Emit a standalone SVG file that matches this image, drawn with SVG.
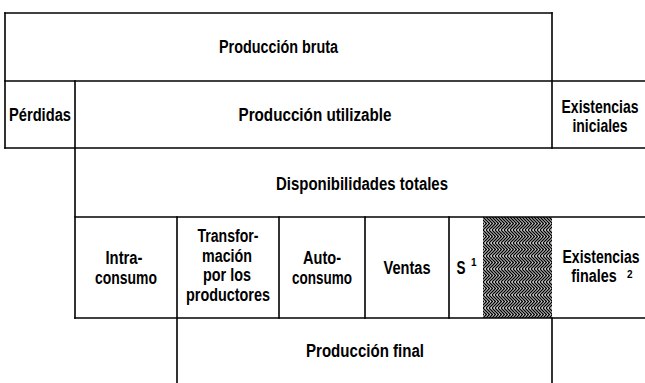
<svg xmlns="http://www.w3.org/2000/svg" width="645" height="383" viewBox="0 0 645 383">
<style>
.t{font-family:"Liberation Sans",Arial,sans-serif;font-weight:bold;font-size:17.5px;fill:#000;text-anchor:middle}
.sup{font-family:"Liberation Sans",Arial,sans-serif;font-weight:bold;font-size:10px;fill:#000}
.ln{stroke:#000;stroke-width:1.6;fill:none;stroke-linecap:square}
</style>
<defs>
<pattern id="herr" patternUnits="userSpaceOnUse" x="483" y="217" width="3" height="13">
<g stroke="#000" stroke-width="1.35" fill="none">
<path d="M-6,0 L0.5,6.5 L-6,13"/>
<path d="M-3,0 L3.5,6.5 L-3,13"/>
<path d="M0,0 L6.5,6.5 L0,13"/>
<path d="M3,0 L9.5,6.5 L3,13"/>
</g>
</pattern>
</defs>
<rect width="645" height="383" fill="#fff"/>
<g id="hatch"><rect x="483" y="217" width="69" height="101" fill="url(#herr)"/></g>
<g id="lines" class="ln">
<path d="M5,13 H552"/>
<path d="M5,81 H645"/>
<path d="M5,148 H645"/>
<path d="M75,217 H645"/>
<path d="M75,318 H645"/>
<path d="M5,13 V148"/>
<path d="M552,13 V148"/>
<path d="M75,81 V318"/>
<path d="M177,217 V383"/>
<path d="M279,217 V318"/>
<path d="M365,217 V318"/>
<path d="M449,217 V318"/>
<path d="M552,318 V383"/>
</g>
<g id="produccion-bruta"><text class="t" x="278.5" y="53" textLength="119" lengthAdjust="spacingAndGlyphs">Producción bruta</text></g>
<g id="perdidas"><text class="t" x="40" y="121" textLength="62" lengthAdjust="spacingAndGlyphs">Pérdidas</text></g>
<g id="produccion-utilizable"><text class="t" x="315" y="121" textLength="153" lengthAdjust="spacingAndGlyphs">Producción utilizable</text></g>
<g id="existencias-iniciales">
<text class="t" transform="translate(600,113) scale(0.8,1)" x="0" y="0">Existencias</text>
<text class="t" transform="translate(600,132) scale(0.8,1)" x="0" y="0">iniciales</text>
</g>
<g id="disponibilidades-totales"><text class="t" x="362" y="190" textLength="172" lengthAdjust="spacingAndGlyphs">Disponibilidades totales</text></g>
<g id="intraconsumo">
<text class="t" x="124" y="264" textLength="37" lengthAdjust="spacingAndGlyphs">Intra-</text>
<text class="t" x="126" y="283.5" textLength="62" lengthAdjust="spacingAndGlyphs">consumo</text>
</g>
<g id="transformacion">
<text class="t" x="228" y="242" textLength="61" lengthAdjust="spacingAndGlyphs">Transfor-</text>
<text class="t" x="227" y="261.5" textLength="50" lengthAdjust="spacingAndGlyphs">mación</text>
<text class="t" x="227" y="281" textLength="48" lengthAdjust="spacingAndGlyphs">por los</text>
<text class="t" x="228" y="300.5" textLength="84" lengthAdjust="spacingAndGlyphs">productores</text>
</g>
<g id="autoconsumo">
<text class="t" x="322" y="264" textLength="38" lengthAdjust="spacingAndGlyphs">Auto-</text>
<text class="t" x="322" y="283.5" textLength="60" lengthAdjust="spacingAndGlyphs">consumo</text>
</g>
<g id="ventas"><text class="t" x="407" y="274" textLength="47" lengthAdjust="spacingAndGlyphs">Ventas</text></g>
<g id="s"><text class="t" x="461" y="274" textLength="9" lengthAdjust="spacingAndGlyphs">S</text><text class="sup" x="471" y="266">1</text></g>
<g id="existencias-finales">
<text class="t" transform="translate(601,263) scale(0.8,1)" x="0" y="0">Existencias</text>
<text class="t" transform="translate(594,282) scale(0.82,1)" x="0" y="0">finales</text>
<text class="sup" x="627" y="278">2</text>
</g>
<g id="produccion-final"><text class="t" x="365" y="357" textLength="118" lengthAdjust="spacingAndGlyphs">Producción final</text></g>
</svg>
